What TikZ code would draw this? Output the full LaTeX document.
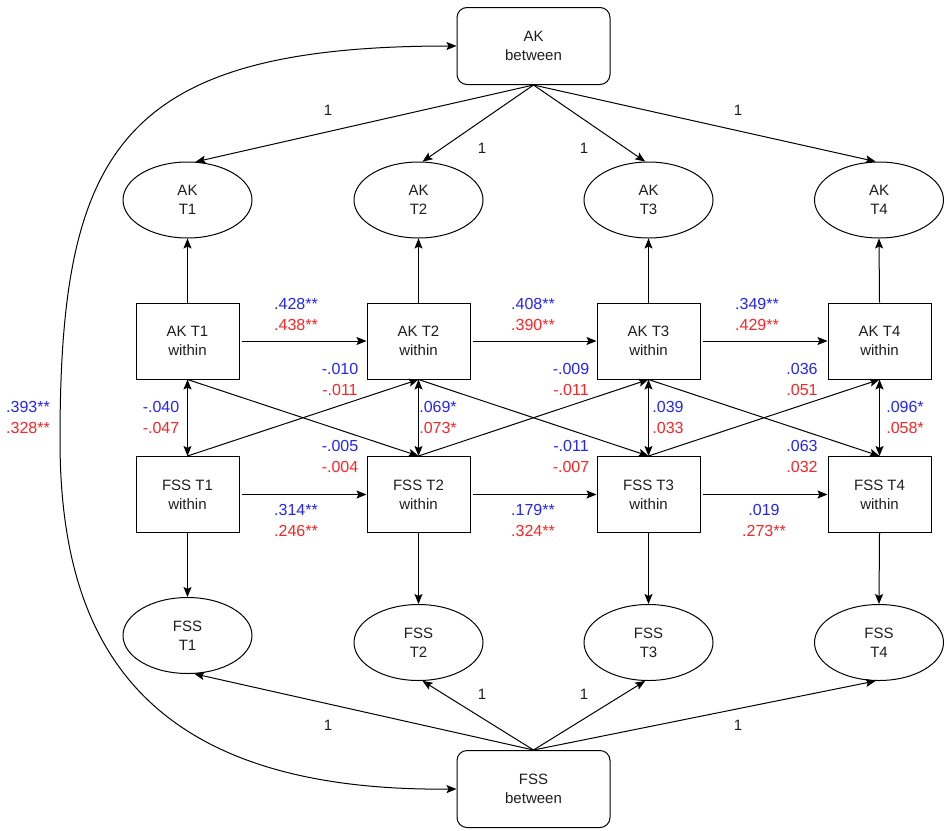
\documentclass[tikz,border=0pt]{standalone}
\usepackage{fontspec}
\setmainfont{Liberation Sans}
\usetikzlibrary{shapes.geometric,arrows.meta}
\definecolor{lblue}{RGB}{35,35,255}
\definecolor{lred}{RGB}{255,35,35}
\definecolor{txt}{RGB}{30,30,30}
\newcommand\estpair[5]{%
  \node[est,text=lblue] (#1b) at (#2,#3) {#4};
  \node[est,text=lred] (#1r) at (#2,#3+21) {#5};}
\begin{document}
\begin{tikzpicture}[x=1pt,y=-1pt,
  every node/.style={font=\fontsize{15}{19}\selectfont, text=txt},
  lat/.style={ellipse, draw, line width=1pt, minimum width=129pt, minimum height=76pt, inner sep=0pt, align=center},
  obs/.style={rectangle, draw, line width=1pt, minimum width=103pt, minimum height=76pt, inner sep=0pt, align=center},
  btw/.style={rectangle, rounded corners=10pt, draw, line width=1pt, minimum width=153pt, minimum height=77pt, inner sep=0pt, align=center},
  arr/.style={-{Stealth[length=10pt,width=8pt,inset=2pt]}, line width=1pt},
  darr/.style={{Stealth[length=10pt,width=8pt,inset=2pt]}-{Stealth[length=10pt,width=8pt,inset=2pt]}, line width=1pt},
  est/.style={font=\fontsize{16}{20}\selectfont, inner sep=0pt},
  one/.style={font=\fontsize{15}{18}\selectfont, inner sep=0pt}]
\useasboundingbox (0,0) rectangle (947,830);

% between boxes
\node[btw] (akb) at (533.5,46) {AK\\between};
\node[btw] (fsb) at (533.5,789) {FSS\\between};

% AK latent ellipses
\node[lat] (ake1) at (187.5,200) {AK\\T1};
\node[lat] (ake2) at (418.5,200) {AK\\T2};
\node[lat] (ake3) at (648.5,200) {AK\\T3};
\node[lat] (ake4) at (879,200) {AK\\T4};

% within boxes
\node[obs] (akw1) at (187.5,341) {AK T1\\within};
\node[obs] (akw2) at (418.5,341) {AK T2\\within};
\node[obs] (akw3) at (648.5,341) {AK T3\\within};
\node[obs] (akw4) at (879.5,341) {AK T4\\within};
\node[obs] (fsw1) at (187.5,494.5) {FSS T1\\within};
\node[obs] (fsw2) at (418.5,494.5) {FSS T2\\within};
\node[obs] (fsw3) at (648.5,494.5) {FSS T3\\within};
\node[obs] (fsw4) at (879.5,494.5) {FSS T4\\within};

% FSS latent ellipses
\node[lat] (fse1) at (187.5,635.5) {FSS\\T1};
\node[lat] (fse2) at (418.5,642.5) {FSS\\T2};
\node[lat] (fse3) at (648.5,642.5) {FSS\\T3};
\node[lat] (fse4) at (879,642.5) {FSS\\T4};

% between -> latent
\draw[arr] (akb.south) -- (ake1.78);
\draw[arr] (akb.south) -- (ake2.84);
\draw[arr] (akb.south) -- (ake3.95);
\draw[arr] (akb.south) -- (ake4.95);
\draw[arr] (fsb.north) -- (fse1.-80);
\draw[arr] (fsb.north) -- (fse2.-84);
\draw[arr] (fsb.north) -- (fse3.-95);
\draw[arr] (fsb.north) -- (fse4.-95);

\node[one] (l1) at (328,110) {1};
\node[one] (l2) at (482,148) {1};
\node[one] (l3) at (584,148) {1};
\node[one] (l4) at (738,110) {1};
\node[one] (l5) at (328,725) {1};
\node[one] (l6) at (482,694) {1};
\node[one] (l7) at (584,694) {1};
\node[one] (l8) at (738,725) {1};

% within -> latent
\foreach \i in {1,2,3,4}{
  \draw[arr] (akw\i.north) -- (ake\i.south);
  \draw[arr] (fsw\i.south) -- (fse\i.north);
  \draw[darr] (akw\i.south) -- (fsw\i.north);
}

% autoregressive and cross-lagged paths
\foreach \i/\j in {1/2,2/3,3/4}{
  \draw[arr] ([xshift=2pt]akw\i.east) -- (akw\j.west);
  \draw[arr] ([xshift=2pt]fsw\i.east) -- (fsw\j.west);
  \draw[arr] (akw\i.south) -- (fsw\j.north);
  \draw[arr] (fsw\i.north) -- (akw\j.south);
}

% between covariance
\coordinate (lft) at (60,440);
\draw[darr] (fsb.west) .. controls (140,792) and (60,640) .. (lft)
  .. controls (60,150) and (120,46) .. (akb.west);

% estimates
\estpair{e0}{28}{407}{.393**}{.328**}
\estpair{e1}{296}{304}{.428**}{.438**}
\estpair{e2}{340}{369}{-.010}{-.011}
\estpair{e3}{161}{407}{-.040}{-.047}
\estpair{e4}{438}{407}{.069*}{.073*}
\estpair{e5}{340}{446}{-.005}{-.004}
\estpair{e6}{296}{510}{.314**}{.246**}
\estpair{e7}{533}{304}{.408**}{.390**}
\estpair{e8}{571}{369}{-.009}{-.011}
\estpair{e9}{668}{407}{.039}{.033}
\estpair{e10}{571}{446}{-.011}{-.007}
\estpair{e11}{533}{510}{.179**}{.324**}
\estpair{e12}{757}{304}{.349**}{.429**}
\estpair{e13}{802}{369}{.036}{.051}
\estpair{e14}{905}{407}{.096*}{.058*}
\estpair{e15}{802}{446}{.063}{.032}
\estpair{e16}{764}{510}{.019}{.273**}
\end{tikzpicture}
\end{document}
